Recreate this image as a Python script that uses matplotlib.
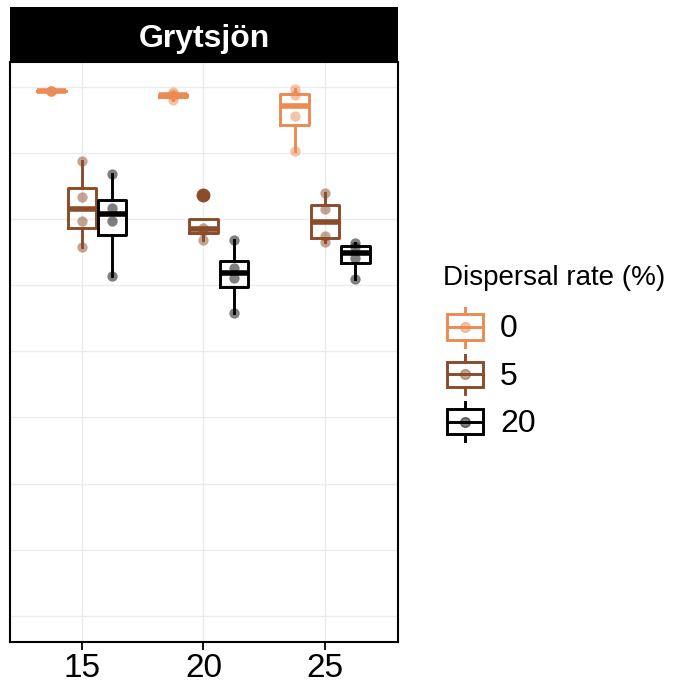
import numpy as np
import matplotlib
matplotlib.use("Agg")
import matplotlib.pyplot as plt
from matplotlib.patches import Rectangle
from matplotlib.lines import Line2D
from matplotlib.legend_handler import HandlerBase

plt.rcParams['font.family'] = ['Liberation Sans', 'DejaVu Sans']

# temperature groups and dispersal rates
temps = [15, 20, 25]
rates = ['0', '5', '20']
colors = {'0': '#EC8A52', '5': '#8B4C2A', '20': '#000000'}

# four replicate values per temperature x dispersal rate
vals = {
    '0':  [[0.8945, 0.8942, 0.8940, 0.8937],
           [0.8927, 0.8890, 0.8865, 0.8805],
           [0.8964, 0.8873, 0.8559, 0.8035]],
    '5':  [[0.7875, 0.7340, 0.6967, 0.6578],
           [0.7369, 0.6872, 0.6820, 0.6679],
           [0.7399, 0.7160, 0.6742, 0.6649]],
    '20': [[0.7683, 0.7168, 0.6976, 0.6140],
           [0.6684, 0.6267, 0.6111, 0.5575],
           [0.6638, 0.6575, 0.6409, 0.6098]],
}

offsets = {'0': -1.25, '5': 0.0, '20': 1.25}
box_w = 1.17
lw = 2.1

fig = plt.figure(figsize=(6.82, 6.83), dpi=100)
ax = fig.add_axes([0.0147, 0.0605, 0.5689, 0.8487])

for r in rates:
    c = colors[r]
    pos = [t + offsets[r] for t in temps]
    ax.boxplot(vals[r], positions=pos, widths=box_w, whis=1.5,
               manage_ticks=False,
               boxprops=dict(color=c, lw=lw),
               whiskerprops=dict(color=c, lw=lw),
               capprops=dict(lw=0),
               medianprops=dict(color=c, lw=4, solid_capstyle='butt'),
               flierprops=dict(marker='o', markerfacecolor=c, markeredgecolor=c,
                               markersize=9),
               zorder=3)
    for p, v in zip(pos, vals[r]):
        ax.scatter([p] * len(v), v, s=55, color=c, alpha=0.5, lw=0, zorder=4)

ax.set_xlim(12.05, 28.0)
ax.set_ylim(0.0607, 0.9377)
ax.set_xticks(temps)
ax.set_xticklabels([str(t) for t in temps], fontsize=24)
ax.set_yticks(np.arange(0.1, 0.95, 0.1))
ax.set_yticklabels([])
ax.tick_params(axis='y', length=0)
ax.tick_params(axis='x', length=6, width=1.3, color='black', pad=2)
ax.grid(True, color='#EBEBEB', lw=1.0, zorder=0)
ax.set_axisbelow(True)
for s in ax.spines.values():
    s.set_linewidth(1.5)
    s.set_color('black')

# facet strip
strip = fig.add_axes([0.0147, 0.9092, 0.5689, 0.0806])
strip.set_facecolor('black')
strip.set_xticks([])
strip.set_yticks([])
for s in strip.spines.values():
    s.set_visible(False)
strip.text(0.5, 0.42, 'Grytsjön', color='white', fontsize=23, fontweight='bold',
           ha='center', va='center', transform=strip.transAxes)


class BoxKey(HandlerBase):
    def create_artists(self, legend, orig_handle, xdescent, ydescent,
                       width, height, fontsize, trans):
        c = orig_handle.get_color()
        x0, y0 = -xdescent + width * 0.1, -ydescent
        w = width * 0.9
        cx, cy = x0 + w / 2, y0 + height / 2
        bh = height * 0.54
        wh = height * 0.82
        rect = Rectangle((x0, cy - bh / 2), w, bh, fill=False, ec=c,
                         lw=lw, transform=trans)
        med = Line2D([x0, x0 + w], [cy, cy], color=c, lw=lw, transform=trans)
        w1 = Line2D([cx, cx], [cy + bh / 2, cy + wh / 2], color=c, lw=lw, transform=trans)
        w2 = Line2D([cx, cx], [cy - wh / 2, cy - bh / 2], color=c, lw=lw, transform=trans)
        dot = Line2D([cx], [cy], marker='o', ms=7, color=c, alpha=0.5, lw=0,
                     transform=trans)
        return [rect, med, w1, w2, dot]


handles = [Line2D([], [], color=colors[r]) for r in rates]
leg = fig.legend(handles, rates, title='Dispersal rate (%)', loc='upper left',
                 bbox_to_anchor=(0.649, 0.612), frameon=False, fontsize=23,
                 title_fontsize=20, handler_map={Line2D: BoxKey()},
                 handlelength=1.25, handleheight=1.9, labelspacing=0.0,
                 handletextpad=0.55, borderpad=0, borderaxespad=0)
leg._legend_box.align = 'left'
leg._legend_box.sep = 9

fig.savefig('out.png', dpi=100)
